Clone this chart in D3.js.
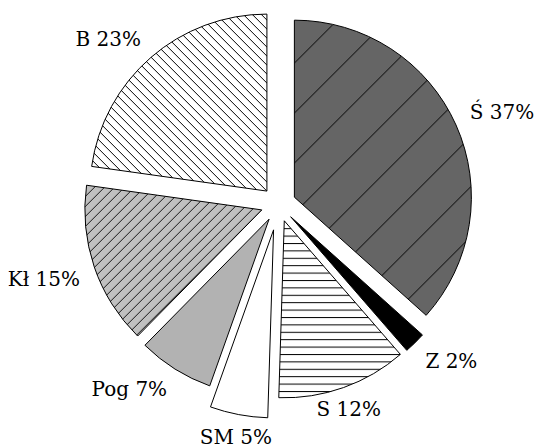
<!DOCTYPE html>
<html><head><meta charset="utf-8">
<script src="https://cdn.jsdelivr.net/npm/d3@7"></script>
<style>html,body{margin:0;padding:0;background:#fff}svg{display:block}</style>
</head><body><svg id="chart" width="534" height="448"></svg>
<script>
// ---- data ----
const categories = ["Ś", "Z", "S", "SM", "Pog", "Kł", "B"];
const values = [37, 2, 12, 5, 7, 15, 23];
const labels = categories.map((c, i) => c + " " + values[i] + "%");

// ---- layout / style ----
const W = 534, H = 448;
const cx = 278.4, cy = 204.3;
const explodeDefault = 17.5, explodeSM = 26;
const radiusDefault = 177, radiusSM = 188;
const labelGap = 15;
const fontSize = 20, capH = 0.729 * fontSize;
const fillFor = {"Ś": "url(#pSd)", "Z": "#000", "S": "url(#pHz)", "SM": "#fff",
                 "Pog": "#b2b2b2", "Kł": "url(#pKl)", "B": "url(#pB)"};
const explodeOf = c => c === "SM" ? explodeSM : explodeDefault;
const radiusOf = c => c === "SM" ? radiusSM : radiusDefault;

const svg = d3.select("#chart");
svg.append("rect").attr("width", W).attr("height", H).attr("fill", "#fff");
const defs = svg.append("defs");

function diagPattern(id, p, bg, stroke, dir, shift) {
  const pat = defs.append("pattern").attr("id", id)
    .attr("patternUnits", "userSpaceOnUse").attr("width", p).attr("height", p)
    .attr("patternTransform", "translate(" + shift + ",0)");
  pat.append("rect").attr("width", p).attr("height", p).attr("fill", bg);
  const d = dir === "/"
    ? `M-1,1L1,-1M0,${p}L${p},0M${p-1},${p+1}L${p+1},${p-1}`
    : `M0,0L${p},${p}M-1,${p-1}L1,${p+1}M${p-1},-1L${p+1},1`;
  pat.append("path").attr("d", d).attr("stroke", stroke).attr("stroke-width", 1).attr("fill", "none");
}
diagPattern("pSd", 50, "#656565", "#000", "/", 16);
diagPattern("pKl", 10, "#c0c0c0", "#111", "/", 0);
diagPattern("pB", 9, "#fff", "#000", "\\", 0);
const ph = defs.append("pattern").attr("id", "pHz")
  .attr("patternUnits", "userSpaceOnUse").attr("width", 20).attr("height", 7.4);
ph.append("rect").attr("width", 20).attr("height", 7.4).attr("fill", "#fff");
ph.append("rect").attr("y", 0).attr("width", 20).attr("height", 1).attr("fill", "#000");

const pie = d3.pie().sort(null).value(d => d.v).startAngle(0).endAngle(2 * Math.PI);
const arcs = pie(categories.map((c, i) => ({cat: c, v: values[i], label: labels[i]})));

const g = svg.append("g").attr("transform", `translate(${cx},${cy})`);
arcs.forEach(d => {
  const c = d.data.cat;
  const a = (d.startAngle + d.endAngle) / 2;
  const e = explodeOf(c);
  const arc = d3.arc().innerRadius(0).outerRadius(radiusOf(c));
  g.append("path")
    .attr("d", arc(d))
    .attr("transform", `translate(${e * Math.sin(a)},${-e * Math.cos(a)})`)
    .attr("fill", fillFor[c])
    .attr("stroke", "#000").attr("stroke-width", 1).attr("stroke-linejoin", "miter");
});

// labels
arcs.forEach(d => {
  const c = d.data.cat;
  const a = (d.startAngle + d.endAngle) / 2;
  const s = Math.sin(a), co = Math.cos(a);
  const D = explodeOf(c) + radiusOf(c) + labelGap;
  const px = cx + D * s, py = cy - D * co;
  const anchor = s > 0.5 ? "start" : (s < -0.5 ? "end" : "middle");
  const base = co > 0 ? py : py + capH;
  svg.append("text")
    .attr("x", px).attr("y", base)
    .attr("text-anchor", anchor)
    .attr("font-family", "DejaVu Serif")
    .attr("font-size", fontSize)
    .attr("fill", "#000")
    .text(d.data.label);
});
</script></body></html>
